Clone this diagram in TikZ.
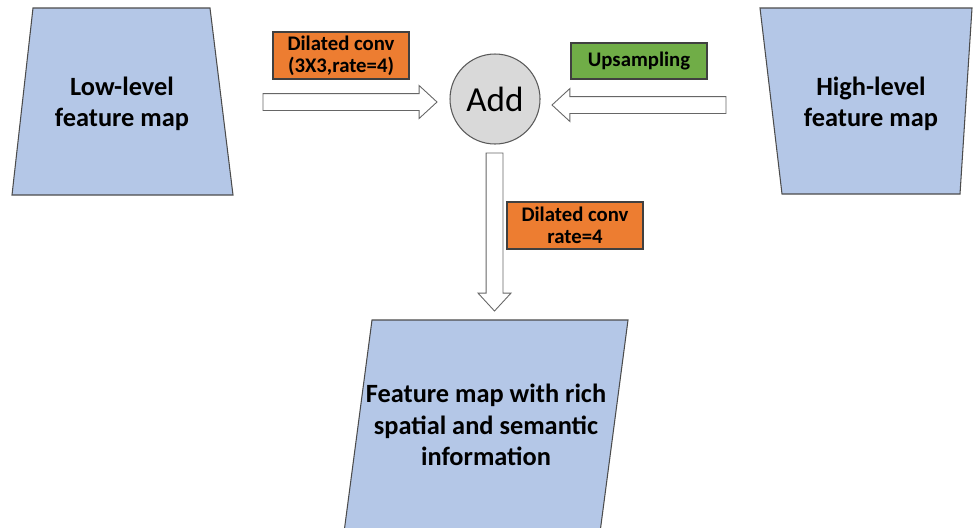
\documentclass[tikz,border=0pt]{standalone}
\usepackage{fontspec}
\setmainfont{Carlito}
\usetikzlibrary{calc}
\definecolor{mapblue}{HTML}{B4C7E7}
\definecolor{convorange}{HTML}{ED7D31}
\definecolor{upgreen}{HTML}{70AD47}
\definecolor{addgray}{HTML}{D9D9D9}
\tikzset{
  mapshape/.style={fill=mapblue, draw=black!70, line width=0.6pt},
  maptext/.style={font=\bfseries\fontsize{15}{18}\selectfont, align=center},
  tagbox/.style={draw=black!75, line width=0.6pt, minimum width=27.2mm, minimum height=9.4mm,
    inner sep=0pt, align=center, font=\bfseries\fontsize{11.8}{12.4}\selectfont},
  hollow/.style={draw=black!60, fill=white, line width=0.5pt, to path={
    let \p1=(\tikztostart), \p2=(\tikztotarget),
        \n1={atan2(\y2-\y1,\x2-\x1)}, \n2={veclen(\x2-\x1,\y2-\y1)-10.2pt} in
    ($(\p1)+(\n1+90:4.8pt)$) -- ($(\p1)+(\n1:{\n2*1pt})+(\n1+90:4.8pt)$)
    -- ($(\p1)+(\n1:{\n2*1pt})+(\n1+90:9.4pt)$) -- (\p2)
    -- ($(\p1)+(\n1:{\n2*1pt})+(\n1-90:9.4pt)$) -- ($(\p1)+(\n1:{\n2*1pt})+(\n1-90:4.8pt)$)
    -- ($(\p1)+(\n1-90:4.8pt)$) -- cycle}}
}
\begin{document}
\begin{tikzpicture}[x=0.2mm, y=-0.2mm]
\useasboundingbox (0,0) rectangle (973,527);
% feature maps
\filldraw [mapshape] (33,8) -- (210,8) -- (233,195) -- (12,195) -- cycle;
\filldraw [mapshape] (760,8) -- (972,8) -- (960,194) -- (782,194) -- cycle;
\filldraw [mapshape] (372,320) -- (628,320) -- (599,540) -- (343,540) -- cycle;
\node [maptext] (low) at (122,104) {Low-level\\feature map};
\node [maptext] (high) at (871,104) {High-level\\feature map};
\node [maptext] (fused) at (486,425) {Feature map with rich\\spatial and semantic\\information};
\node [circle, fill=addgray, draw=black!65, line width=0.6pt, minimum size=18mm, inner sep=0pt,
  font=\fontsize{20}{24}\selectfont] (add) at (495,99) {Add};
% operations
\node [tagbox, fill=convorange] (dil1) at (341,55.5) {Dilated conv\\(3X3,rate=4)};
\node [tagbox, fill=upgreen, minimum height=7.2mm] (upsm) at (639,61) {Upsampling};
\node [tagbox, fill=convorange] (dil2) at (575,225.5) {Dilated conv\\rate=4};
% arrows
\coordinate (low-out) at (263,102);
\coordinate (add-w) at (437,102);
\coordinate (high-out) at (726,105);
\coordinate (add-e) at (552,105);
\coordinate (add-s) at (494.5,153);
\coordinate (fused-in) at (494.5,311);
\draw [hollow] (low-out) to (add-w);
\draw [hollow] (high-out) to (add-e);
\draw [hollow] (add-s) to (fused-in);
\end{tikzpicture}
\end{document}
